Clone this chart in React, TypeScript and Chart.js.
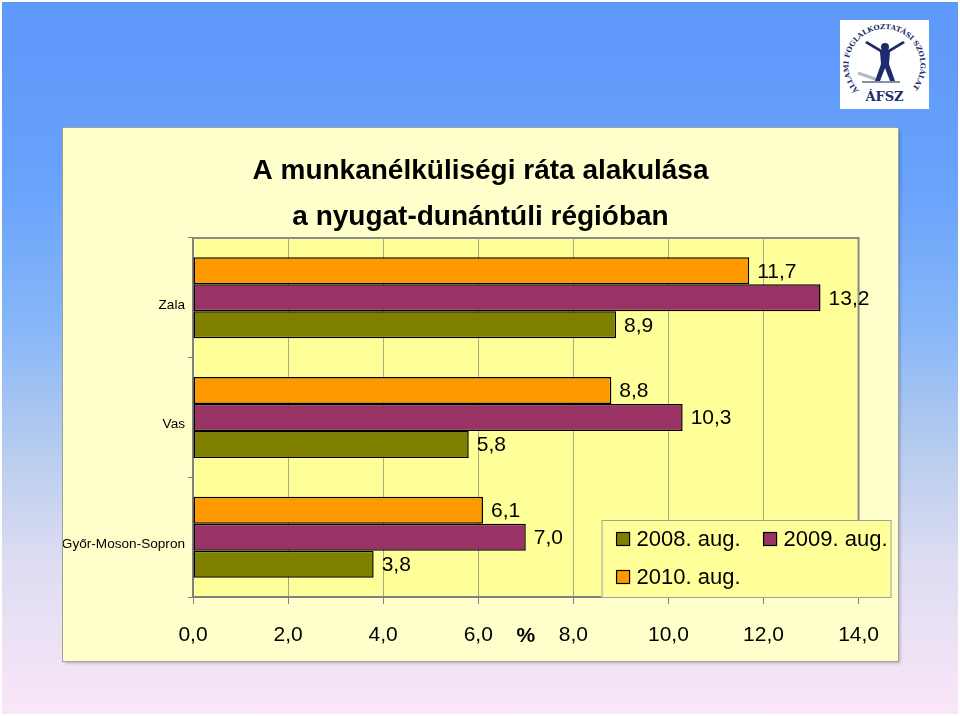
import React, { useEffect, useRef } from "react";
import { Chart, registerables } from "chart.js";

Chart.register(...registerables);

const categories = ["Zala", "Vas", "Győr-Moson-Sopron"];
const values2010 = [11.7, 8.8, 6.1];
const values2009 = [13.2, 10.3, 7.0];
const values2008 = [8.9, 5.8, 3.8];
const xTicks = [0, 2, 4, 6, 8, 10, 12, 14];
const titleLines = ["A munkanélküliségi ráta alakulása", "a nyugat-dunántúli régióban"];
const axisUnit = "%";
const legendLabels = ["2008. aug.", "2009. aug.", "2010. aug."];

const COLOR_2008 = "#808000";
const COLOR_2009 = "#993366";
const COLOR_2010 = "#ff9900";

const FONT = "'Liberation Sans', Arial, Helvetica, sans-serif";
const fmt = (v: number) => Number(v).toFixed(1).replace(".", ",");

const plotDecor = {
  id: "plotDecor",
  beforeDraw(chart: any) {
    const { ctx, chartArea: a } = chart;
    ctx.save();
    ctx.fillStyle = "#ffff99";
    ctx.fillRect(a.left, a.top, a.right - a.left, a.bottom - a.top);
    // title
    ctx.fillStyle = "#000";
    ctx.font = `bold 28px ${FONT}`;
    ctx.textAlign = "center";
    ctx.textBaseline = "middle";
    titleLines.forEach((t, i) => {
      ctx.fillText(t, chart.width / 2, 43 + i * 46);
    });
    ctx.restore();
  },
  beforeDatasetsDraw(chart: any) {
    const { ctx, chartArea: a } = chart;
    ctx.save();
    ctx.strokeStyle = "#8a8a8a";
    ctx.lineWidth = 2;
    ctx.beginPath();
    ctx.moveTo(a.left, a.top);
    ctx.lineTo(a.right, a.top);
    ctx.lineTo(a.right, a.bottom);
    ctx.stroke();
    ctx.restore();
  },
  afterDatasetsDraw(chart: any) {
    const { ctx } = chart;
    ctx.save();
    ctx.fillStyle = "#000";
    ctx.font = `21px ${FONT}`;
    ctx.textAlign = "left";
    ctx.textBaseline = "middle";
    chart.data.datasets.forEach((ds: any, i: number) => {
      const meta = chart.getDatasetMeta(i);
      meta.data.forEach((el: any, j: number) => {
        ctx.fillText(fmt(ds.data[j]), el.x + 8, el.y + 1);
      });
    });
    ctx.restore();
  },
  afterDraw(chart: any) {
    const { ctx, chartArea: a } = chart;
    ctx.save();
    // axis unit label on the tick label line
    ctx.fillStyle = "#000";
    ctx.font = `bold 21px ${FONT}`;
    ctx.textAlign = "center";
    ctx.textBaseline = "middle";
    ctx.fillText(axisUnit, (a.left + a.right) / 2, a.bottom + 39);

    // legend box
    const bx = a.right - 257;
    const by = a.bottom - 77;
    const bw = 290;
    const bh = 78;
    ctx.fillStyle = "#ffff99";
    ctx.fillRect(bx, by, bw, bh);
    ctx.strokeStyle = "#a0a0a0";
    ctx.lineWidth = 1;
    ctx.strokeRect(bx + 0.5, by + 0.5, bw - 1, bh - 1);
    const colors = [COLOR_2008, COLOR_2009, COLOR_2010];
    const pos = [
      [bx + 15, by + 19],
      [bx + 162, by + 19],
      [bx + 15, by + 57],
    ];
    ctx.font = `22px ${FONT}`;
    ctx.textAlign = "left";
    legendLabels.forEach((lab, i) => {
      const [x, y] = pos[i];
      ctx.fillStyle = colors[i];
      ctx.fillRect(x, y - 6.5, 13, 13);
      ctx.strokeStyle = "#000";
      ctx.lineWidth = 1.2;
      ctx.strokeRect(x, y - 6.5, 13, 13);
      ctx.fillStyle = "#000";
      ctx.fillText(lab, x + 20, y + 1);
    });
    ctx.restore();
  },
};

function Logo() {
  const r = 36;
  const cx = 44.5;
  const cy = 45;
  const dx = r * Math.cos(Math.PI / 4);
  const d = `M ${cx - dx} ${cy + dx} A ${r} ${r} 0 1 1 ${cx + dx} ${cy + dx}`;
  return (
    <svg
      width={89}
      height={89}
      style={{ position: "absolute", left: 840, top: 20 }}
      viewBox="0 0 89 89"
    >
      <rect x={0} y={0} width={89} height={89} fill="#ffffff" />
      <defs>
        <path id="logoArc" d={d} />
      </defs>
      <text fontSize={7} fontWeight="bold" fill="#1d2a6b" fontFamily="'DejaVu Serif', serif">
        <textPath href="#logoArc" textLength={166} lengthAdjust="spacingAndGlyphs">
          ÁLLAMI FOGLALKOZTATÁSI SZOLGÁLAT
        </textPath>
      </text>
      <path d="M22 62 L60 62" stroke="#8b8fa6" strokeWidth={2} />
      <path d="M18 53 L38 60" stroke="#b5b8c8" strokeWidth={3} />
      <circle cx={45} cy={27} r={4} fill="#1d2a6b" />
      <path
        d="M25 23 L40 32 L41 44 L35 61 L40 61 L45 48 L50 61 L55 61 L49 44 L50 32 L65 23 L63 21 L48 30 L42 30 L27 21 Z"
        fill="#1d2a6b"
      />
      <text x={44.5} y={81} textAnchor="middle" fontSize={13} fontWeight="bold" fill="#1d2a6b" fontFamily="'DejaVu Serif', serif">
        ÁFSZ
      </text>
    </svg>
  );
}

export default function App() {
  const canvasRef = useRef<HTMLCanvasElement | null>(null);

  useEffect(() => {
    const canvas = canvasRef.current;
    if (!canvas) return;
    const common = {
      borderColor: "#000000",
      borderWidth: 1.5,
      borderSkipped: false,
      barPercentage: 1,
      categoryPercentage: 0.677,
    };
    const chart = new Chart(canvas, {
      type: "bar",
      data: {
        labels: categories,
        datasets: [
          { label: "2010. aug.", data: values2010, backgroundColor: COLOR_2010, ...common },
          { label: "2009. aug.", data: values2009, backgroundColor: COLOR_2009, ...common },
          { label: "2008. aug.", data: values2008, backgroundColor: COLOR_2008, ...common },
        ],
      },
      options: {
        indexAxis: "y",
        responsive: false,
        animation: false,
        events: [],
        layout: { padding: { left: 0, right: 36, top: 110, bottom: 0 } },
        plugins: {
          legend: { display: false },
          tooltip: { enabled: false },
          title: { display: false },
        },
        scales: {
          x: {
            min: 0,
            max: 14,
            afterBuildTicks: (s: any) => {
              s.ticks = xTicks.map((v) => ({ value: v }));
            },
            afterFit: (s: any) => {
              s.height = 64;
            },
            grid: {
              color: "#a8a884",
              lineWidth: 1,
              tickLength: 7,
              tickColor: "#808080",
            },
            border: { color: "#808080", width: 2 },
            ticks: {
              color: "#000",
              font: { family: FONT, size: 21 },
              padding: 19,
              maxRotation: 0,
              autoSkip: false,
              callback: (v: any) => fmt(v),
            },
          },
          y: {
            afterFit: (s: any) => {
              s.width = 130;
            },
            grid: {
              drawOnChartArea: false,
              tickLength: 5,
              tickColor: "#808080",
              offset: true,
            },
            border: { color: "#808080", width: 2 },
            ticks: {
              color: "#000",
              font: { family: FONT, size: 13.6 },
              padding: 3,
              labelOffset: 7,
            },
          },
        },
      },
      plugins: [plotDecor],
    } as any);
    return () => chart.destroy();
  }, []);

  return (
    <div
      style={{
        position: "absolute",
        left: 0,
        top: 0,
        width: 960,
        height: 716,
        background: "#ffffff",
        overflow: "hidden",
      }}
    >
      <div
        style={{
          position: "absolute",
          left: 2,
          top: 2,
          width: 956,
          height: 712,
          background:
            "linear-gradient(to bottom, #5d98fb 0%, #68a2fc 25%, #86b6f8 45%, #b4cbee 62%, #dcdcf2 78%, #fbe6f8 100%)",
        }}
      />
      <Logo />
      <div
        style={{
          position: "absolute",
          left: 63,
          top: 128,
          width: 835,
          height: 533,
          background: "#ffffcc",
          boxShadow: "0 0 0 1px #a0a0a0, 2px 2px 3px rgba(0,0,0,0.25)",
        }}
      >
        <canvas ref={canvasRef} width={835} height={533} style={{ display: "block" }} />
      </div>
    </div>
  );
}
